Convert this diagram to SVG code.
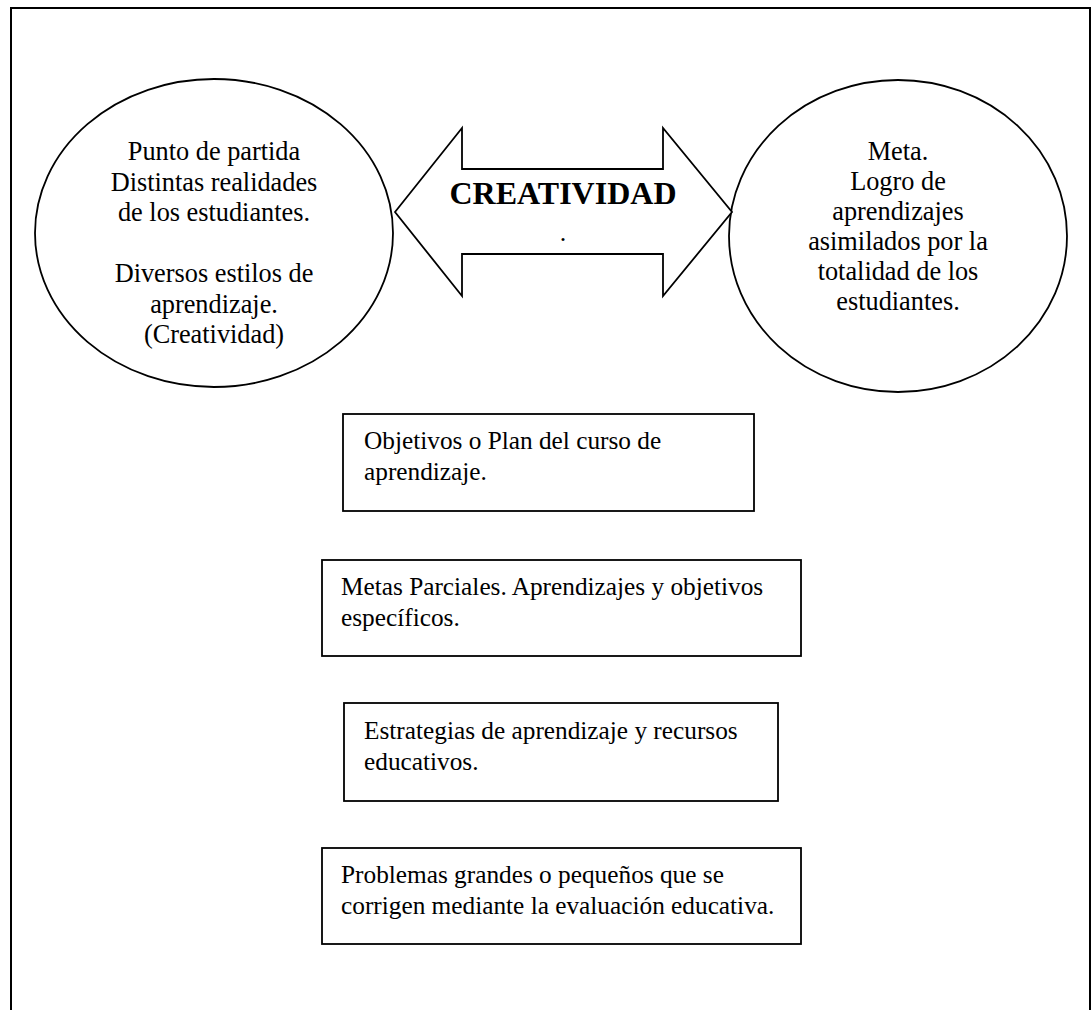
<svg xmlns="http://www.w3.org/2000/svg" width="1092" height="1010" viewBox="0 0 1092 1010">
<style>
.shape{fill:#fff;stroke:#000;stroke-width:1.8}
.ct{font-family:"Liberation Serif","Times New Roman",serif;font-size:26.3px;fill:#000;text-anchor:middle}
.bt{font-family:"Liberation Serif","Times New Roman",serif;font-size:25.3px;fill:#000}
.big{font-family:"Liberation Serif","Times New Roman",serif;font-size:32px;font-weight:bold;fill:#000;text-anchor:middle}
</style>
<rect x="0" y="0" width="1092" height="1010" fill="#fff"/>
<rect id="frame" x="11" y="8" width="1079" height="1020" fill="none" stroke="#000" stroke-width="2"/>
<g id="start">
<ellipse class="shape" cx="214" cy="233" rx="179" ry="154"/>
<text class="ct" x="214" y="160">Punto de partida</text>
<text class="ct" x="214" y="190.5">Distintas realidades</text>
<text class="ct" x="214" y="221">de los estudiantes.</text>
<text class="ct" x="214" y="282">Diversos estilos de</text>
<text class="ct" x="214" y="312.5">aprendizaje.</text>
<text class="ct" x="214" y="343">(Creatividad)</text>
</g>
<g id="goal">
<ellipse class="shape" cx="898" cy="236" rx="169" ry="156"/>
<text class="ct" x="898" y="160">Meta.</text>
<text class="ct" x="898" y="190">Logro de</text>
<text class="ct" x="898" y="220">aprendizajes</text>
<text class="ct" x="898" y="250">asimilados por la</text>
<text class="ct" x="898" y="280">totalidad de los</text>
<text class="ct" x="898" y="310">estudiantes.</text>
</g>
<g id="connectors">
<g id="creatividad-arrow">
<polygon class="shape" points="395,212 462,128 462,169 663,169 663,128 732,212 663,296 663,254 462,254 462,296"/>
<text class="big" x="563" y="204">CREATIVIDAD</text>
<text class="big" x="563" y="241" style="font-weight:normal;font-size:26px">.</text>
</g>
</g>
<g id="box1">
<rect class="shape" x="343" y="414" width="411" height="97"/>
<text class="bt" x="364" y="449">Objetivos o Plan del curso de</text>
<text class="bt" x="364" y="480">aprendizaje.</text>
</g>
<g id="box2">
<rect class="shape" x="322" y="560" width="479" height="96"/>
<text class="bt" x="341" y="595">Metas Parciales. Aprendizajes y objetivos</text>
<text class="bt" x="341" y="626">específicos.</text>
</g>
<g id="box3">
<rect class="shape" x="344" y="703" width="434" height="98"/>
<text class="bt" x="364" y="739">Estrategias de aprendizaje y recursos</text>
<text class="bt" x="364" y="770">educativos.</text>
</g>
<g id="box4">
<rect class="shape" x="322" y="848" width="479" height="96"/>
<text class="bt" x="341" y="883">Problemas grandes o pequeños que se</text>
<text class="bt" x="341" y="914">corrigen mediante la evaluación educativa.</text>
</g>
</svg>
